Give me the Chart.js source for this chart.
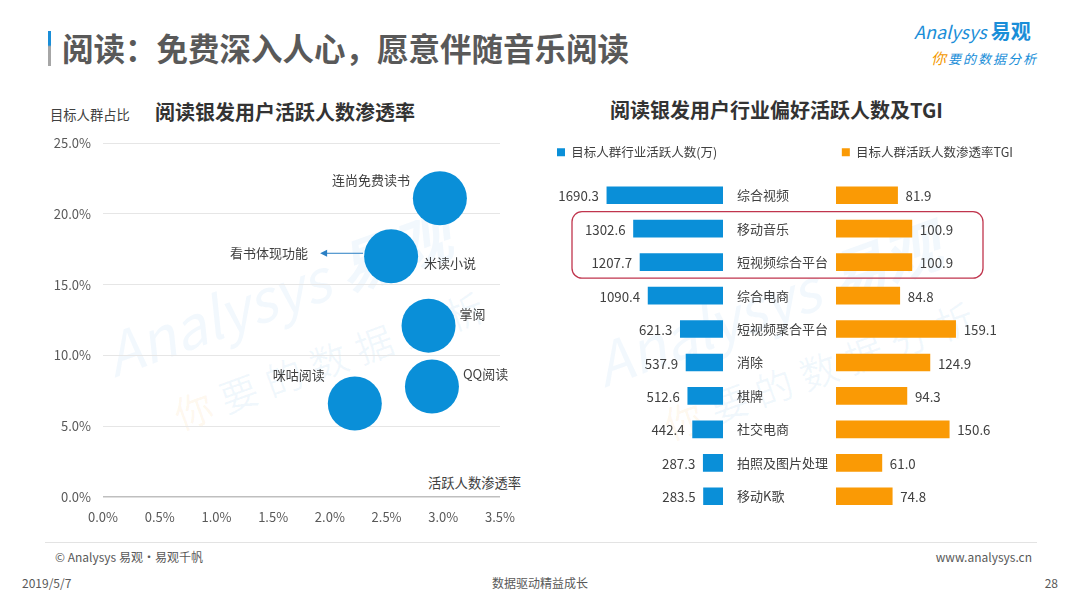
<!DOCTYPE html>
<html>
<head>
<meta charset="utf-8">
<script src="https://cdn.jsdelivr.net/npm/chart.js@4.4.1/dist/chart.umd.min.js"></script>
<style>
  html, body { margin: 0; padding: 0; background: #fff; }
  body { width: 1080px; height: 607px; position: relative; overflow: hidden;
         font-family: 'Noto Sans CJK SC', 'Open Sans', sans-serif; color: #595959; }
  .abs { position: absolute; white-space: nowrap; line-height: 1; }
  .mid { transform: translateY(-50%); }
  canvas { position: absolute; }
  .wm { position: absolute; white-space: nowrap; transform-origin: center; pointer-events: none; }
</style>
</head>
<body>

<!-- header -->
<div class="abs" style="left:48px; top:31px; width:3px; height:35px; background:linear-gradient(#1a8ed8 0%, #1a8ed8 40%, #a6a6a6 45%, #a6a6a6 100%);"></div>
<div class="abs mid" style="left:62px; top:48px; font-size:31.5px; font-weight:bold; color:#595959;">阅读：免费深入人心，愿意伴随音乐阅读</div>
<div class="abs mid" style="left:914px; top:31px; font-size:18px; color:#1a8ed8; font-style:italic;">Analysys <span style="font-weight:bold; font-style:normal; font-size:20px;">易观</span></div>
<div class="abs mid" style="left:931px; top:57px; font-size:13px; color:#1a8ed8; font-style:italic; letter-spacing:2px;"><span style="color:#f39800; font-size:15px;">你</span>要的数据分析</div>

<!-- watermarks -->
<div class="wm" style="left:95px; top:250px; transform:rotate(-20deg); font-size:58px; color:rgba(26,142,216,0.06); font-style:italic;">Analysys <b>易观</b></div>
<div class="wm" style="left:165px; top:330px; transform:rotate(-20deg); font-size:38px; color:rgba(26,142,216,0.06); letter-spacing:10px;"><span style="color:rgba(243,152,0,0.07)">你</span>要的数据分析</div>
<div class="wm" style="left:585px; top:260px; transform:rotate(-20deg); font-size:58px; color:rgba(26,142,216,0.06); font-style:italic;">Analysys <b>易观</b></div>
<div class="wm" style="left:655px; top:340px; transform:rotate(-20deg); font-size:38px; color:rgba(26,142,216,0.06); letter-spacing:10px;"><span style="color:rgba(243,152,0,0.07)">你</span>要的数据分析</div>

<!-- left panel -->
<div class="abs mid" style="left:50px; top:115px; font-size:13.3px; color:#404040;">目标人群占比</div>
<div class="abs mid" style="left:155px; top:112px; font-size:20px; font-weight:bold; color:#333;">阅读银发用户活跃人数渗透率</div>
<div class="abs mid" style="left:428px; top:483px; font-size:13.3px; color:#404040;">活跃人数渗透率</div>
<canvas id="chart-bubble" width="490" height="410" style="left:30px; top:130px; width:490px; height:410px;"></canvas>

<!-- right panel -->
<div class="abs mid" style="left:610px; top:110px; font-size:20px; font-weight:bold; color:#333;">阅读银发用户行业偏好活跃人数及TGI</div>
<canvas id="chart-users" width="476" height="377" style="left:547px; top:136px; width:476px; height:377px;"></canvas>
<canvas id="chart-tgi" width="476" height="377" style="left:547px; top:136px; width:476px; height:377px;"></canvas>

<!-- footer -->
<div class="abs" style="left:45px; top:542px; width:992px; height:1px; background:#e3e3e3;"></div>
<div class="abs mid" style="left:55px; top:557px; font-size:12px;">© Analysys 易观·易观千帆</div>
<div class="abs mid" style="right:48px; top:557px; font-size:12px;">www.analysys.cn</div>
<div class="abs mid" style="left:22px; top:583px; font-size:12px;">2019/5/7</div>
<div class="abs mid" style="left:540px; top:583px; font-size:12px; transform:translate(-50%,-50%);">数据驱动精益成长</div>
<div class="abs mid" style="right:22px; top:583px; font-size:12px;">28</div>

<script>
// 左图：阅读APP（x = 活跃人数渗透率 %, y = 目标人群占比 %）
const appNames = ['连尚免费读书', '米读小说', '掌阅', 'QQ阅读', '咪咕阅读'];
const penetration = [2.97, 2.54, 2.87, 2.90, 2.22];
const targetShare = [21.1, 17.0, 12.1, 7.8, 6.6];

// 右图：行业偏好
const industries = ['综合视频', '移动音乐', '短视频综合平台', '综合电商', '短视频聚合平台',
  '消除', '棋牌', '社交电商', '拍照及图片处理', '移动K歌'];
const activeUsers = [1690.3, 1302.6, 1207.7, 1090.4, 621.3, 537.9, 512.6, 442.4, 287.3, 283.5];
const tgiValues = [81.9, 100.9, 100.9, 84.8, 159.1, 124.9, 94.3, 150.6, 61.0, 74.8];

const FONT = "'Noto Sans CJK SC', 'Open Sans', sans-serif";
const BLUE = '#0a8fd8';
const ORANGE = '#fa9a05';
const TEXT = '#404040';

Chart.defaults.font.family = FONT;
Chart.defaults.color = TEXT;
Chart.defaults.animation = false;

// 轴的自动留白去掉，位置由 afterFit 决定
const noPad = s => { s.paddingTop = 0; s.paddingBottom = 0; s.paddingLeft = 0; s.paddingRight = 0; };

// 气泡旁的文字位置 [dx, dy, 对齐]
const labelPlace = [[-30, -18, 'right'], [33, 7, 'left'], [31, -12, 'left'], [31, -12, 'left'], [-30, -28, 'right']];

const bubbleLabels = {
  id: 'bubbleLabels',
  afterDatasetsDraw(chart) {
    const ctx = chart.ctx;
    const meta = chart.getDatasetMeta(0);
    ctx.save();
    ctx.font = '13px ' + FONT;
    ctx.fillStyle = TEXT;
    ctx.textBaseline = 'middle';
    meta.data.forEach((pt, i) => {
      const [dx, dy, align] = labelPlace[i];
      ctx.textAlign = align;
      ctx.fillText(appNames[i], pt.x + dx, pt.y + dy);
    });
    // 米读小说的说明箭头
    const p = meta.data[1];
    const y = p.y - 3;
    ctx.strokeStyle = '#2a7fc4';
    ctx.fillStyle = '#2a7fc4';
    ctx.lineWidth = 1;
    ctx.beginPath();
    ctx.moveTo(p.x - 28, y);
    ctx.lineTo(p.x - 66, y);
    ctx.stroke();
    ctx.beginPath();
    ctx.moveTo(p.x - 71, y);
    ctx.lineTo(p.x - 64, y - 3.5);
    ctx.lineTo(p.x - 64, y + 3.5);
    ctx.closePath();
    ctx.fill();
    ctx.fillStyle = TEXT;
    ctx.textAlign = 'right';
    ctx.fillText('看书体现功能', p.x - 83, y);
    ctx.restore();
  }
};

new Chart(document.getElementById('chart-bubble'), {
  type: 'bubble',
  data: {
    datasets: [{
      label: '活跃人数渗透率',
      data: appNames.map((_, i) => ({ x: penetration[i], y: targetShare[i] })),
      backgroundColor: BLUE,
      borderWidth: 0,
      radius: 27
    }]
  },
  options: {
    responsive: false,
    layout: { autoPadding: false, padding: { top: 13, right: 20, left: 0, bottom: 0 } },
    plugins: { legend: { display: false }, tooltip: { enabled: false } },
    scales: {
      x: {
        min: 0, max: 3.5,
        ticks: { stepSize: 0.5, padding: 12, color: '#595959', font: { size: 13 },
          callback: v => v.toFixed(1) + '%' },
        grid: { display: false, drawTicks: false },
        border: { display: false },
        afterFit: s => { s.height = 43; noPad(s); }
      },
      y: {
        min: 0, max: 25,
        ticks: { stepSize: 5, padding: 12, color: '#595959', font: { size: 13 },
          callback: v => v.toFixed(1) + '%' },
        grid: {
          drawTicks: false,
          color: c => c.tick.value === 0 ? '#bfbfbf' : '#e6e6e6',
          lineWidth: c => c.tick.value === 0 ? 1.5 : 1
        },
        border: { display: false },
        afterFit: s => { s.width = 73; noPad(s); }
      }
    }
  },
  plugins: [bubbleLabels]
});

// 柱子末端的数值
const valueLabels = {
  id: 'valueLabels',
  afterDatasetsDraw(chart, args, opts) {
    const ctx = chart.ctx;
    const data = chart.data.datasets[0].data;
    ctx.save();
    ctx.font = '13.3px ' + FONT;
    ctx.fillStyle = TEXT;
    ctx.textBaseline = 'middle';
    ctx.textAlign = opts.side === 'left' ? 'right' : 'left';
    chart.getDatasetMeta(0).data.forEach((bar, i) => {
      const x = opts.side === 'left' ? bar.x - 8 : bar.x + 8;
      ctx.fillText(data[i].toFixed(1), x, bar.y + 1);
    });
    ctx.restore();
  }
};

// 红色圆角框：移动音乐、短视频综合平台
const highlightRows = {
  id: 'highlightRows',
  afterDatasetsDraw(chart, args, opts) {
    const ctx = chart.ctx;
    const ys = chart.scales.y;
    const top = ys.getPixelForValue(opts.from) - 17;
    const bottom = ys.getPixelForValue(opts.to) + 16;
    const left = chart.chartArea.left - 264;
    const right = chart.chartArea.left + 147;
    ctx.save();
    ctx.strokeStyle = '#c0354d';
    ctx.lineWidth = 1.3;
    ctx.beginPath();
    ctx.roundRect(left, top, right - left, bottom - top, 10);
    ctx.stroke();
    ctx.restore();
  }
};

const legendOpts = align => ({
  display: true,
  position: 'top',
  align: align,
  labels: { boxWidth: 8, boxHeight: 8, padding: 10, color: TEXT, font: { size: 12.5 } }
});

// 图例与柱子之间的空白
const legendGap = { display: true, text: '', position: 'top', weight: 500, padding: 0,
  font: { size: 10, lineHeight: 1 } };

new Chart(document.getElementById('chart-users'), {
  type: 'bar',
  data: {
    labels: industries,
    datasets: [{
      label: '目标人群行业活跃人数(万)',
      data: activeUsers,
      backgroundColor: BLUE,
      barThickness: 17
    }]
  },
  options: {
    indexAxis: 'y',
    responsive: false,
    layout: { padding: 0 },
    plugins: {
      legend: legendOpts('start'),
      subtitle: legendGap,
      tooltip: { enabled: false },
      valueLabels: { side: 'left' }
    },
    scales: {
      x: { display: false, reverse: true, min: 0, max: 2562 },
      y: {
        position: 'right',
        grid: { display: false, drawTicks: false },
        border: { display: false },
        ticks: { crossAlign: 'near', padding: 14, color: TEXT, font: { size: 13 } },
        afterFit: s => { s.width = 300; noPad(s); }
      }
    }
  },
  plugins: [valueLabels]
});

new Chart(document.getElementById('chart-tgi'), {
  type: 'bar',
  data: {
    labels: industries,
    datasets: [{
      label: '目标人群活跃人数渗透率TGI',
      data: tgiValues,
      backgroundColor: ORANGE,
      barThickness: 17
    }]
  },
  options: {
    indexAxis: 'y',
    responsive: false,
    layout: { padding: 0 },
    plugins: {
      legend: legendOpts('end'),
      subtitle: legendGap,
      tooltip: { enabled: false },
      valueLabels: { side: 'right' },
      highlightRows: { from: 1, to: 2 }
    },
    scales: {
      x: { display: false, min: 0, max: 248.7 },
      y: {
        position: 'left',
        grid: { display: false, drawTicks: false },
        border: { display: false },
        ticks: { display: false },
        afterFit: s => { s.width = 289; noPad(s); }
      }
    }
  },
  plugins: [valueLabels, highlightRows]
});
</script>
</body>
</html>
